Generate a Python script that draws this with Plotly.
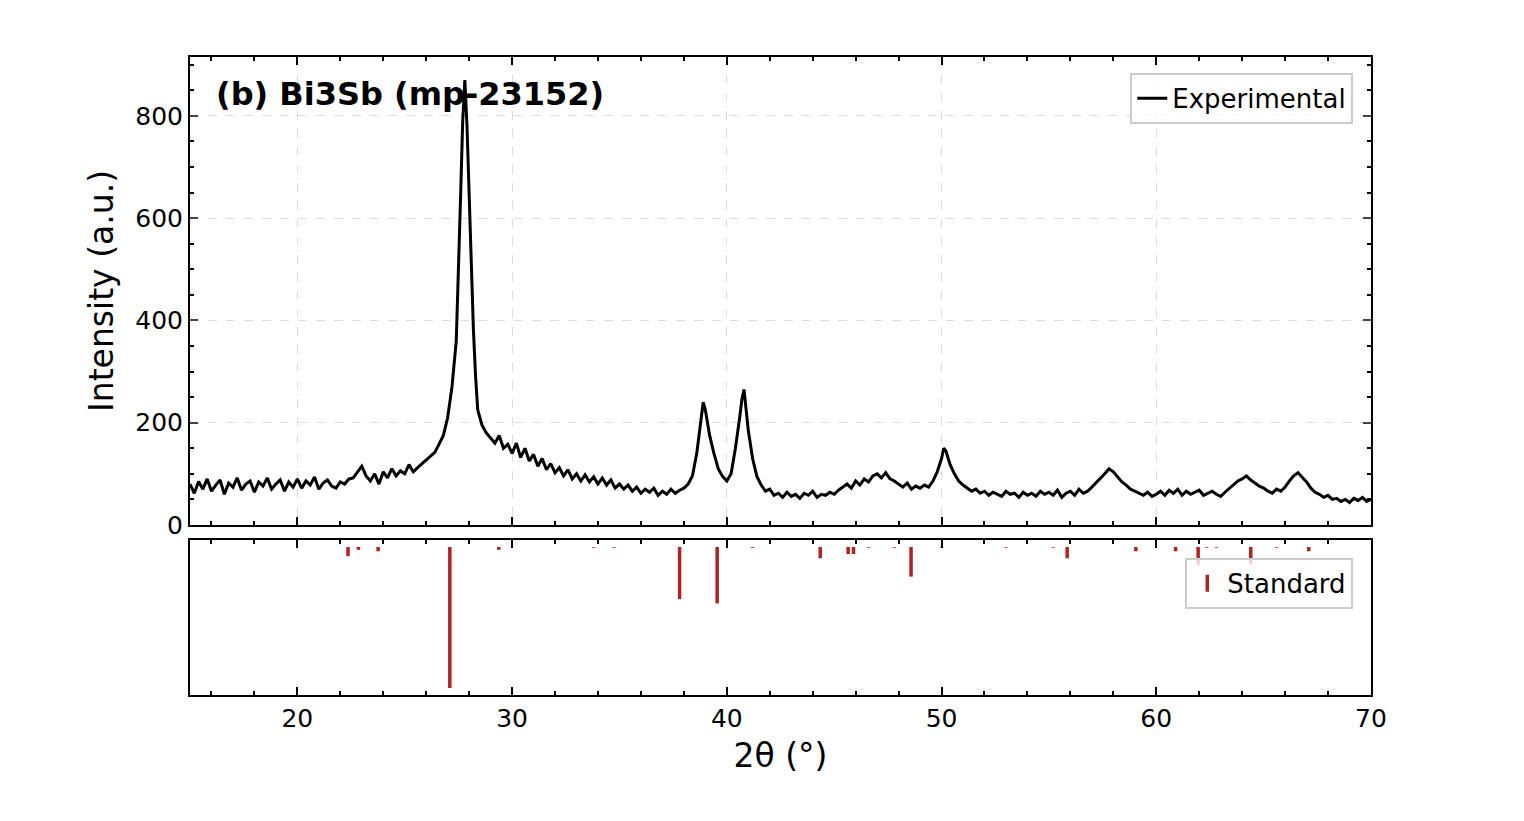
import plotly.graph_objects as go

# Experimental pattern (2θ, intensity)
exp_x = [15.0,15.2,15.4,15.6,15.8,16.0,16.2,16.4,16.6,16.8,17.0,17.2,17.4,17.6,17.8,18.0,18.2,18.4,18.6,18.8,
         19.0,19.2,19.4,19.6,19.8,20.0,20.2,20.4,20.6,20.8,21.0,21.2,21.4,21.6,21.8,22.0,22.2,22.4,22.6,22.8,
         23.0,23.2,23.4,23.6,23.8,24.0,24.2,24.4,24.6,24.8,25.0,25.2,25.4,25.6,25.8,26.0,26.2,26.4,26.6,26.8,
         27.0,27.2,27.4,27.5,27.6,27.7,27.8,27.9,28.0,28.1,28.2,28.3,28.4,28.6,28.8,29.0,29.2,29.4,29.6,29.8,
         30.0,30.2,30.4,30.6,30.8,31.0,31.2,31.4,31.6,31.8,32.0,32.2,32.4,32.6,32.8,33.0,33.2,33.4,33.6,33.8,
         34.0,34.2,34.4,34.6,34.8,35.0,35.2,35.4,35.6,35.8,36.0,36.2,36.4,36.6,36.8,37.0,37.2,37.4,37.6,37.8,
         38.0,38.2,38.4,38.6,38.8,38.9,39.0,39.1,39.2,39.4,39.6,39.8,40.0,40.2,40.4,40.6,40.7,40.8,40.9,41.0,
         41.2,41.4,41.6,41.8,42.0,42.2,42.4,42.6,42.8,43.0,43.2,43.4,43.6,43.8,44.0,44.2,44.4,44.6,44.8,45.0,
         45.2,45.4,45.6,45.8,46.0,46.2,46.4,46.6,46.8,47.0,47.2,47.4,47.6,47.8,48.0,48.2,48.4,48.6,48.8,49.0,
         49.2,49.4,49.6,49.8,50.0,50.1,50.2,50.3,50.4,50.6,50.8,51.0,51.2,51.4,51.6,51.8,52.0,52.2,52.4,52.6,
         52.8,53.0,53.2,53.4,53.6,53.8,54.0,54.2,54.4,54.6,54.8,55.0,55.2,55.4,55.6,55.8,56.0,56.2,56.4,56.6,
         56.8,57.0,57.2,57.4,57.6,57.8,58.0,58.2,58.4,58.6,58.8,59.0,59.2,59.4,59.6,59.8,60.0,60.2,60.4,60.6,
         60.8,61.0,61.2,61.4,61.6,61.8,62.0,62.2,62.4,62.6,62.8,63.0,63.2,63.4,63.6,63.8,64.0,64.2,64.4,64.6,
         64.8,65.0,65.2,65.4,65.6,65.8,66.0,66.2,66.4,66.6,66.8,67.0,67.2,67.4,67.6,67.8,68.0,68.2,68.4,68.6,
         68.8,69.0,69.2,69.4,69.6,69.8,70.0]
exp_y = [80,62,85,70,90,66,78,88,60,82,74,92,68,80,86,64,84,76,92,70,
         80,88,66,84,74,90,72,86,78,94,70,82,88,76,72,84,80,90,92,104,
         115,96,86,100,80,104,92,110,96,106,100,118,104,112,120,128,136,142,158,175,
         210,270,360,480,640,790,870,780,640,500,380,290,225,195,180,170,160,175,150,158,
         140,160,132,150,125,138,115,130,108,120,102,112,96,108,90,100,86,98,84,94,
         80,92,78,88,72,80,70,78,66,74,62,70,64,72,58,66,60,70,62,68,
         72,80,96,140,215,240,225,200,175,140,110,95,86,100,150,210,245,265,230,185,
         130,95,78,66,70,58,62,54,64,56,60,52,62,58,66,54,60,58,64,60,
         68,74,80,72,86,78,90,84,96,100,92,102,90,86,80,74,82,70,76,72,
         78,74,86,104,130,150,145,132,118,100,86,78,72,66,70,62,66,58,64,60,
         56,66,60,62,54,64,58,62,56,66,60,64,58,68,54,62,66,58,70,62,
         66,74,82,92,100,110,104,94,84,78,70,66,62,58,64,56,60,66,58,68,
         62,70,58,66,60,64,68,58,62,66,60,56,64,72,80,86,90,96,88,82,
         76,72,66,62,70,66,74,86,96,102,94,84,72,64,60,54,58,50,52,46,
         50,44,52,48,54,46,50]

# Reference (Standard) peak positions and relative intensities
std_x = [22.36,22.84,23.76,27.10,29.38,33.80,34.75,37.80,39.55,41.20,44.35,45.65,45.90,46.60,
         47.80,48.58,50.00,53.00,55.20,55.85,59.05,60.90,61.95,62.35,62.80,64.40,65.60,67.10]
std_y = [6.5,2,3,100,2,0.5,0.5,37,40,0.6,8,5,5,0.5,
         0.5,21,0.5,0.5,0.5,8,3,3,13,0.5,0.5,12,0.5,3]

sx, sy = [], []
for x, y in zip(std_x, std_y):
    sx += [x, x, None]
    sy += [0, y, None]

fig = go.Figure()
fig.add_trace(go.Scatter(x=exp_x, y=exp_y, mode="lines", name="Experimental",
                         line=dict(color="black", width=3), xaxis="x", yaxis="y",
                         legend="legend"))
fig.add_trace(go.Scatter(x=sx, y=sy, mode="lines", line=dict(color="#b22222", width=3.5),
                         showlegend=False, xaxis="x2", yaxis="y2"))
fig.add_trace(go.Scatter(x=[None], y=[None], mode="markers", name="Standard",
                         marker=dict(symbol="line-ns-open", size=12, color="#b22222",
                                     line=dict(width=3.5, color="#b22222")),
                         xaxis="x2", yaxis="y2", legend="legend2"))

font = "DejaVu Sans"
axcommon = dict(range=[15, 70], showline=True, linecolor="black", linewidth=2, mirror="ticks",
                ticks="inside", ticklen=8, tickwidth=2, tickcolor="black", dtick=10,
                minor=dict(ticks="inside", ticklen=4, tickwidth=1.5, dtick=2, tickcolor="black"),
                zeroline=False)
fig.update_layout(
    width=1524, height=821, paper_bgcolor="white", plot_bgcolor="white",
    margin=dict(l=182, r=161, t=49, b=134),
    font=dict(family=font, size=25, color="black"),
    xaxis=dict(**axcommon, domain=[0, 1], anchor="y", showticklabels=False,
               showgrid=True, gridcolor="#dcdcdc", griddash="dash", gridwidth=1),
    yaxis=dict(domain=[0.2665, 1], range=[0, 915], anchor="x", showline=True, linecolor="black",
               linewidth=2, mirror="ticks", ticks="inside", ticklen=8, tickwidth=2, dtick=200,
               minor=dict(ticks="inside", ticklen=4, tickwidth=1.5, dtick=50, tickcolor="black"),
               showgrid=True, gridcolor="#dcdcdc", griddash="dash", gridwidth=1, zeroline=False,
               title=dict(text="Intensity (a.u.)", font=dict(size=33), standoff=12)),
    xaxis2=dict(**axcommon, domain=[0, 1], anchor="y2", showgrid=False,
                title=dict(text="2θ (°)", font=dict(size=33), standoff=12)),
    yaxis2=dict(domain=[0, 0.243], range=[105, -5], anchor="x2", showline=True, linecolor="black",
                linewidth=2, mirror=True, showticklabels=False, ticks="", showgrid=False,
                zeroline=False),
    legend=dict(x=0.985, y=0.975, xanchor="right", yanchor="top", bgcolor="rgba(255,255,255,0.8)",
                bordercolor="#cccccc", borderwidth=2, font=dict(size=26)),
    legend2=dict(x=0.985, y=0.215, xanchor="right", yanchor="top", bgcolor="rgba(255,255,255,0.8)",
                 bordercolor="#cccccc", borderwidth=2, font=dict(size=26)),
    annotations=[dict(text="<b>(b) Bi3Sb (mp-23152)</b>", xref="paper", yref="paper",
                      x=0.02, y=0.975, xanchor="left", yanchor="top", showarrow=False,
                      font=dict(size=32, family=font))],
)
fig.write_html("out.html")
